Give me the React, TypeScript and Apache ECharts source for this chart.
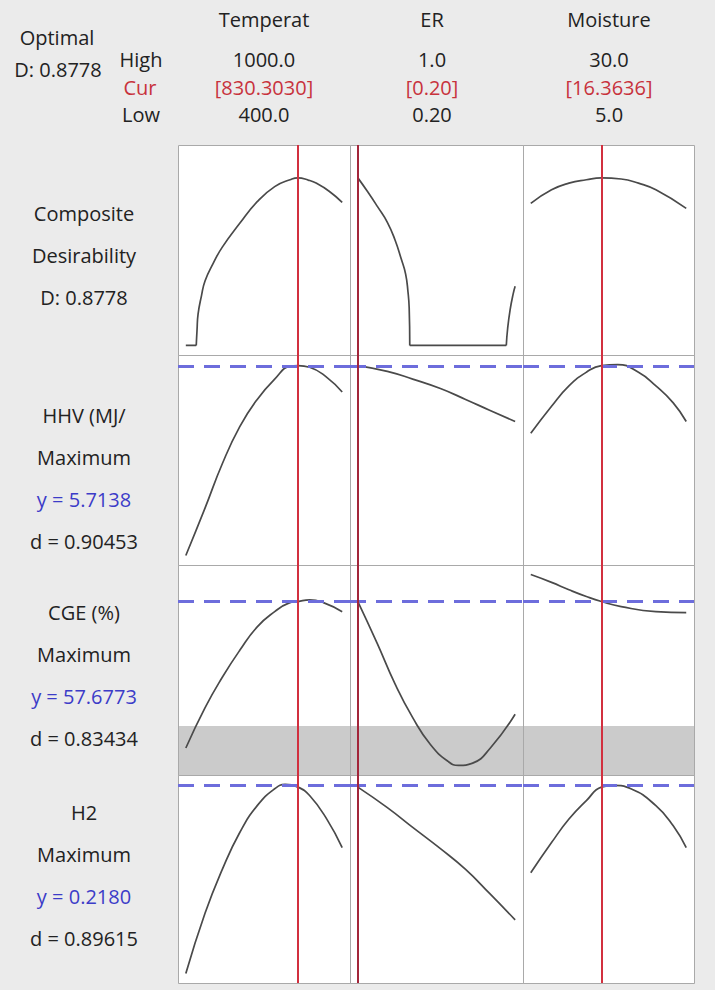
import React, { useEffect, useRef } from "react";
import * as echarts from "echarts";

// Factor settings
const factorNames = ["Temperat", "ER", "Moisture"];
const factorHighText = ["1000.0", "1.0", "30.0"];
const factorCurText = ["[830.3030]", "[0.20]", "[16.3636]"];
const factorLowText = ["400.0", "0.20", "5.0"];
const factorLow = [400, 0.2, 5];
const factorHigh = [1000, 1.0, 30];
const currentSetting = [830.303, 0.2, 16.3636];

// Predicted responses at the current setting
const responseAtCurrent = [null, 5.7138, 57.6773, 0.218];
const cgeLowerLimit = 40;

// Composite desirability
const compTempX = [400, 440, 443, 447, 460, 474, 505, 540, 607, 674, 741, 800, 830.303, 870, 902, 950, 1000];
const compTempY = [0, 0, 0.08, 0.164, 0.26, 0.339, 0.43, 0.515, 0.64, 0.753, 0.832, 0.868, 0.8778, 0.866, 0.849, 0.808, 0.75];
const compErX = [0.2, 0.25, 0.3, 0.35, 0.39, 0.42, 0.443, 0.455, 0.461, 0.464, 0.955, 0.962, 0.975, 0.99, 1.0];
const compErY = [0.8778, 0.805, 0.727, 0.645, 0.55, 0.455, 0.374, 0.28, 0.197, 0, 0, 0.09, 0.19, 0.27, 0.31];
const compMoistX = [5, 8.34, 11.14, 13.94, 16.3636, 19.54, 22.32, 25.12, 30];
const compMoistY = [0.744, 0.815, 0.85, 0.868, 0.8778, 0.872, 0.85, 0.815, 0.718];

// HHV (MJ/Nm3)
const hhvTempX = [400, 474, 540, 607, 674, 741, 801, 830.303, 875, 941, 1000];
const hhvTempY = [3.0, 3.68, 4.31, 4.84, 5.23, 5.52, 5.705, 5.7138, 5.69, 5.545, 5.336];
const hhvErX = [0.2, 0.35, 0.479, 0.62, 0.748, 0.87, 1.0];
const hhvErY = [5.7138, 5.63, 5.52, 5.385, 5.229, 5.075, 4.914];
const hhvMoistX = [5, 8.34, 11.14, 13.94, 16.3636, 18.97, 22.32, 25.12, 27.91, 30];
const hhvMoistY = [4.745, 5.132, 5.423, 5.618, 5.7138, 5.728, 5.618, 5.423, 5.181, 4.914];

// CGE (%)
const cgeTempX = [400, 474, 540, 607, 674, 741, 795, 830.303, 875, 928, 1000];
const cgeTempY = [36.89, 42.62, 46.93, 50.75, 54.09, 56.24, 57.45, 57.6773, 57.92, 57.53, 56.24];
const cgeErX = [0.2, 0.299, 0.389, 0.479, 0.569, 0.659, 0.712, 0.784, 0.874, 1.0];
const cgeErY = [57.6773, 51.71, 45.98, 41.19, 37.38, 34.98, 34.41, 34.74, 36.89, 41.68];
const cgeMoistX = [5, 8.34, 11.14, 13.94, 16.3636, 19.54, 25.12, 30];
const cgeMoistY = [61.51, 60.4, 59.35, 58.39, 57.6773, 56.96, 56.24, 56.1];

// H2
const h2TempX = [400, 474, 540, 607, 674, 741, 781, 830.303, 875, 941, 1000];
const h2TempY = [0.05, 0.1045, 0.1438, 0.1771, 0.2013, 0.2165, 0.2204, 0.218, 0.2104, 0.1892, 0.1635];
const h2ErX = [0.2, 0.35, 0.479, 0.62, 0.748, 0.87, 1.0];
const h2ErY = [0.218, 0.1995, 0.1817, 0.1625, 0.1438, 0.1222, 0.0984];
const h2MoistX = [5, 8.34, 11.14, 13.94, 16.3636, 18.3, 21.1, 25.12, 27.91, 30];
const h2MoistY = [0.1408, 0.168, 0.1892, 0.2058, 0.218, 0.2195, 0.2165, 0.2013, 0.1831, 0.1635];

// Row labels
const rowLabels = [
  ["Composite", "Desirability", "D: 0.8778"],
  ["HHV (MJ/", "Maximum", "y = 5.7138", "d = 0.90453"],
  ["CGE (%)", "Maximum", "y = 57.6773", "d = 0.83434"],
  ["H2", "Maximum", "y = 0.2180", "d = 0.89615"],
];

const rowCurves: [number[], number[]][][] = [
  [[compTempX, compTempY], [compErX, compErY], [compMoistX, compMoistY]],
  [[hhvTempX, hhvTempY], [hhvErX, hhvErY], [hhvMoistX, hhvMoistY]],
  [[cgeTempX, cgeTempY], [cgeErX, cgeErY], [cgeMoistX, cgeMoistY]],
  [[h2TempX, h2TempY], [h2ErX, h2ErY], [h2MoistX, h2MoistY]],
];

// Layout
const colLeft = [178, 350, 523];
const colWidth = [172, 173, 171];
const rowTop = [145, 355, 565, 775];
const rowHeight = [210, 210, 210, 208];
const labelCenterY = [255, 478, 675, 875];
const labelX = 84;
const labelGap = 42;
const FONT = "'Open Sans', 'Noto Sans', sans-serif";
const INK = "#222222";
const RED = "#c8323c";
const BLUE = "#3c3cc8";

function padded(lo: number, hi: number): [number, number] {
  const d = (hi - lo) * 0.05;
  return [lo - d, hi + d];
}

// Split a desirability trace at its zero points so that the flat
// stretches stay straight and the curved parts are smoothed on their own.
function splitAtZeros(xs: number[], ys: number[]): number[][][] {
  const segs: number[][][] = [];
  let cur: number[][] = [];
  xs.forEach((x, i) => {
    cur.push([x, ys[i]]);
    if (ys[i] === 0 && i > 0 && i < xs.length - 1) {
      segs.push(cur);
      cur = [[x, ys[i]]];
    }
  });
  if (cur.length > 1) segs.push(cur);
  return segs;
}

function text(t: string, x: number, y: number, fill = INK, size = 20) {
  return {
    type: "text",
    x,
    y,
    z: 20,
    silent: true,
    style: { text: t, fill, fontSize: size, fontFamily: FONT, align: "center", verticalAlign: "middle" },
  };
}

function buildOption() {
  const grid: any[] = [];
  const xAxis: any[] = [];
  const yAxis: any[] = [];
  const series: any[] = [];
  const graphic: any[] = [];

  rowCurves.forEach((curves, r) => {
    let yr: [number, number];
    if (r === 0) yr = padded(0, 1);
    else {
      const all = curves.flatMap((c) => c[1]);
      yr = padded(Math.min(...all), Math.max(...all));
    }
    curves.forEach(([xs, ys], c) => {
      const idx = r * 3 + c;
      const xr = padded(factorLow[c], factorHigh[c]);
      grid.push({
        left: colLeft[c],
        top: rowTop[r],
        width: colWidth[c],
        height: rowHeight[r],
        show: true,
        backgroundColor: "#ffffff",
        borderWidth: 0,
        z: 0,
      });
      xAxis.push({ type: "value", gridIndex: idx, min: xr[0], max: xr[1], show: false });
      yAxis.push({ type: "value", gridIndex: idx, min: yr[0], max: yr[1], show: false });

      if (r === 2) {
        series.push({
          type: "line",
          xAxisIndex: idx,
          yAxisIndex: idx,
          data: [],
          silent: true,
          z: 1,
          markArea: {
            silent: true,
            itemStyle: { color: "#cbcbcb" },
            data: [[{ yAxis: yr[0] }, { yAxis: cgeLowerLimit }]],
          },
        });
      }
      const target = responseAtCurrent[r];
      if (target !== null) {
        series.push({
          type: "line",
          xAxisIndex: idx,
          yAxisIndex: idx,
          data: [],
          silent: true,
          z: 2,
          markLine: {
            silent: true,
            symbol: ["none", "none"],
            label: { show: false },
            lineStyle: { color: "#6d6ddc", width: 3, type: [16, 10], opacity: 1 },
            data: [{ yAxis: target }],
          },
        });
      }
      const segments = r === 0 ? splitAtZeros(xs, ys) : [xs.map((x, i) => [x, ys[i]])];
      segments.forEach((seg) => {
        series.push({
          type: "line",
          xAxisIndex: idx,
          yAxisIndex: idx,
          data: seg,
          showSymbol: false,
          smooth: 0.5,
          silent: true,
          z: 3,
          lineStyle: { color: "#4a4a4a", width: 1.7 },
        });
      });
      series.push({
        type: "line",
        xAxisIndex: idx,
        yAxisIndex: idx,
        data: [],
        silent: true,
        z: 4,
        markLine: {
          silent: true,
          symbol: ["none", "none"],
          label: { show: false },
          lineStyle: { color: c === 1 ? "#a3263a" : "#d2303f", width: 2, type: "solid", opacity: 1 },
          data: [{ xAxis: currentSetting[c] }],
        },
      });

      graphic.push({
        type: "rect",
        z: 1.5,
        silent: true,
        shape: { x: colLeft[c] + 0.5, y: rowTop[r] + 0.5, width: colWidth[c], height: rowHeight[r] },
        style: { fill: "none", stroke: "#a9a9a9", lineWidth: 1 },
      });
    });

    const lines = rowLabels[r];
    lines.forEach((t, i) => {
      const y = labelCenterY[r] + (i - (lines.length - 1) / 2) * labelGap;
      graphic.push(text(t, labelX, y, t.startsWith("y =") ? BLUE : INK));
    });
  });

  // Header block
  graphic.push(text("Optimal", 57, 37));
  graphic.push(text("D: 0.8778", 58, 69));
  graphic.push(text("High", 141, 59));
  graphic.push(text("Cur", 140, 87, RED));
  graphic.push(text("Low", 141, 114));
  const headerX = [264, 432, 609];
  factorNames.forEach((n, c) => {
    graphic.push(text(n, headerX[c], 19));
    graphic.push(text(factorHighText[c], headerX[c], 59));
    graphic.push(text(factorCurText[c], headerX[c], 87, RED));
    graphic.push(text(factorLowText[c], headerX[c], 114));
  });

  return {
    animation: false,
    backgroundColor: "#ebebeb",
    grid,
    xAxis,
    yAxis,
    series,
    graphic: { elements: graphic },
  };
}

export default function App() {
  const ref = useRef<HTMLDivElement>(null);
  useEffect(() => {
    const chart = echarts.init(ref.current!, null, { renderer: "svg" });
    chart.setOption(buildOption() as any);
    return () => chart.dispose();
  }, []);
  return <div ref={ref} style={{ position: "absolute", left: 0, top: 0, width: 715, height: 990 }} />;
}
